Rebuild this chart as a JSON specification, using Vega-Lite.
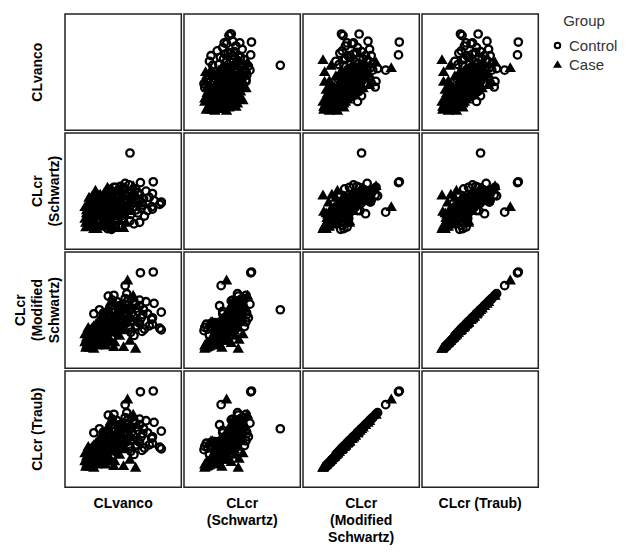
{
  "$schema": "https://vega.github.io/schema/vega-lite/v6.json",
  "padding": {"left": 14, "top": 13, "right": 5, "bottom": 5},
  "background": "white",
  "data": {"values": [
    {"CL_vanco": 28, "CLcr_Schwartz": 70, "CLcr_Schwartz_mod": 52, "CLcr_Traub": 62.4, "Group": "Case"},
    {"CL_vanco": 30, "CLcr_Schwartz": 65, "CLcr_Schwartz_mod": 48, "CLcr_Traub": 57.6, "Group": "Case"},
    {"CL_vanco": 33, "CLcr_Schwartz": 72, "CLcr_Schwartz_mod": 55, "CLcr_Traub": 66, "Group": "Case"},
    {"CL_vanco": 27, "CLcr_Schwartz": 75, "CLcr_Schwartz_mod": 50, "CLcr_Traub": 60, "Group": "Case"},
    {"CL_vanco": 35, "CLcr_Schwartz": 68, "CLcr_Schwartz_mod": 45, "CLcr_Traub": 54, "Group": "Case"},
    {"CL_vanco": 31, "CLcr_Schwartz": 80, "CLcr_Schwartz_mod": 54, "CLcr_Traub": 64.8, "Group": "Case"},
    {"CL_vanco": 37, "CLcr_Schwartz": 74, "CLcr_Schwartz_mod": 58, "CLcr_Traub": 69.6, "Group": "Case"},
    {"CL_vanco": 29, "CLcr_Schwartz": 82, "CLcr_Schwartz_mod": 46, "CLcr_Traub": 55.2, "Group": "Case"},
    {"CL_vanco": 40, "CLcr_Schwartz": 111, "CLcr_Schwartz_mod": 60, "CLcr_Traub": 72, "Group": "Case"},
    {"CL_vanco": 36, "CLcr_Schwartz": 96, "CLcr_Schwartz_mod": 49, "CLcr_Traub": 58.8, "Group": "Case"},
    {"CL_vanco": 32, "CLcr_Schwartz": 84, "CLcr_Schwartz_mod": 43, "CLcr_Traub": 51.6, "Group": "Case"},
    {"CL_vanco": 43, "CLcr_Schwartz": 78, "CLcr_Schwartz_mod": 62, "CLcr_Traub": 74.4, "Group": "Case"},
    {"CL_vanco": 45, "CLcr_Schwartz": 88, "CLcr_Schwartz_mod": 65, "CLcr_Traub": 78, "Group": "Case"},
    {"CL_vanco": 39, "CLcr_Schwartz": 90, "CLcr_Schwartz_mod": 56, "CLcr_Traub": 67.2, "Group": "Case"},
    {"CL_vanco": 47, "CLcr_Schwartz": 70, "CLcr_Schwartz_mod": 52, "CLcr_Traub": 62.4, "Group": "Case"},
    {"CL_vanco": 50, "CLcr_Schwartz": 95, "CLcr_Schwartz_mod": 70, "CLcr_Traub": 84, "Group": "Case"},
    {"CL_vanco": 53, "CLcr_Schwartz": 80, "CLcr_Schwartz_mod": 60, "CLcr_Traub": 72, "Group": "Case"},
    {"CL_vanco": 55, "CLcr_Schwartz": 102, "CLcr_Schwartz_mod": 75, "CLcr_Traub": 90, "Group": "Case"},
    {"CL_vanco": 57, "CLcr_Schwartz": 75, "CLcr_Schwartz_mod": 68, "CLcr_Traub": 81.6, "Group": "Case"},
    {"CL_vanco": 60, "CLcr_Schwartz": 85, "CLcr_Schwartz_mod": 78, "CLcr_Traub": 93.6, "Group": "Case"},
    {"CL_vanco": 63, "CLcr_Schwartz": 63, "CLcr_Schwartz_mod": 44, "CLcr_Traub": 52.8, "Group": "Case"},
    {"CL_vanco": 75, "CLcr_Schwartz": 63, "CLcr_Schwartz_mod": 44, "CLcr_Traub": 52.8, "Group": "Case"},
    {"CL_vanco": 70, "CLcr_Schwartz": 72, "CLcr_Schwartz_mod": 58, "CLcr_Traub": 69.6, "Group": "Case"},
    {"CL_vanco": 65, "CLcr_Schwartz": 90, "CLcr_Schwartz_mod": 80, "CLcr_Traub": 96, "Group": "Case"},
    {"CL_vanco": 67, "CLcr_Schwartz": 98, "CLcr_Schwartz_mod": 85, "CLcr_Traub": 102, "Group": "Case"},
    {"CL_vanco": 73, "CLcr_Schwartz": 105, "CLcr_Schwartz_mod": 90, "CLcr_Traub": 108, "Group": "Case"},
    {"CL_vanco": 51, "CLcr_Schwartz": 108, "CLcr_Schwartz_mod": 82, "CLcr_Traub": 98.4, "Group": "Case"},
    {"CL_vanco": 43, "CLcr_Schwartz": 100, "CLcr_Schwartz_mod": 70, "CLcr_Traub": 84, "Group": "Case"},
    {"CL_vanco": 58, "CLcr_Schwartz": 112, "CLcr_Schwartz_mod": 88, "CLcr_Traub": 105.6, "Group": "Case"},
    {"CL_vanco": 80, "CLcr_Schwartz": 90, "CLcr_Schwartz_mod": 127, "CLcr_Traub": 152.4, "Group": "Case"},
    {"CL_vanco": 87, "CLcr_Schwartz": 117, "CLcr_Schwartz_mod": 108, "CLcr_Traub": 129.6, "Group": "Case"},
    {"CL_vanco": 90, "CLcr_Schwartz": 105, "CLcr_Schwartz_mod": 42, "CLcr_Traub": 50.4, "Group": "Case"},
    {"CL_vanco": 77, "CLcr_Schwartz": 80, "CLcr_Schwartz_mod": 65, "CLcr_Traub": 78, "Group": "Case"},
    {"CL_vanco": 82, "CLcr_Schwartz": 95, "CLcr_Schwartz_mod": 80, "CLcr_Traub": 96, "Group": "Case"},
    {"CL_vanco": 85, "CLcr_Schwartz": 100, "CLcr_Schwartz_mod": 95, "CLcr_Traub": 114, "Group": "Case"},
    {"CL_vanco": 49, "CLcr_Schwartz": 65, "CLcr_Schwartz_mod": 48, "CLcr_Traub": 57.6, "Group": "Case"},
    {"CL_vanco": 41, "CLcr_Schwartz": 86, "CLcr_Schwartz_mod": 73, "CLcr_Traub": 87.6, "Group": "Case"},
    {"CL_vanco": 34, "CLcr_Schwartz": 100, "CLcr_Schwartz_mod": 65, "CLcr_Traub": 78, "Group": "Case"},
    {"CL_vanco": 61, "CLcr_Schwartz": 93, "CLcr_Schwartz_mod": 62, "CLcr_Traub": 74.4, "Group": "Case"},
    {"CL_vanco": 69, "CLcr_Schwartz": 82, "CLcr_Schwartz_mod": 70, "CLcr_Traub": 84, "Group": "Case"},
    {"CL_vanco": 38, "CLcr_Schwartz": 62, "CLcr_Schwartz_mod": 42, "CLcr_Traub": 50.4, "Group": "Case"},
    {"CL_vanco": 46, "CLcr_Schwartz": 106, "CLcr_Schwartz_mod": 53, "CLcr_Traub": 63.6, "Group": "Case"},
    {"CL_vanco": 72, "CLcr_Schwartz": 110, "CLcr_Schwartz_mod": 98, "CLcr_Traub": 117.6, "Group": "Case"},
    {"CL_vanco": 55, "CLcr_Schwartz": 115, "CLcr_Schwartz_mod": 92, "CLcr_Traub": 110.4, "Group": "Case"},
    {"CL_vanco": 83, "CLcr_Schwartz": 85, "CLcr_Schwartz_mod": 52, "CLcr_Traub": 62.4, "Group": "Case"},
    {"CL_vanco": 27, "CLcr_Schwartz": 90, "CLcr_Schwartz_mod": 60, "CLcr_Traub": 72, "Group": "Case"},
    {"CL_vanco": 52, "CLcr_Schwartz": 72, "CLcr_Schwartz_mod": 75, "CLcr_Traub": 90, "Group": "Case"},
    {"CL_vanco": 64, "CLcr_Schwartz": 78, "CLcr_Schwartz_mod": 50, "CLcr_Traub": 60, "Group": "Case"},
    {"CL_vanco": 59, "CLcr_Schwartz": 98, "CLcr_Schwartz_mod": 100, "CLcr_Traub": 120, "Group": "Case"},
    {"CL_vanco": 78, "CLcr_Schwartz": 70, "CLcr_Schwartz_mod": 75, "CLcr_Traub": 90, "Group": "Case"},
    {"CL_vanco": 31, "CLcr_Schwartz": 66, "CLcr_Schwartz_mod": 44, "CLcr_Traub": 52.8, "Group": "Case"},
    {"CL_vanco": 34, "CLcr_Schwartz": 78, "CLcr_Schwartz_mod": 51, "CLcr_Traub": 61.2, "Group": "Case"},
    {"CL_vanco": 41, "CLcr_Schwartz": 68, "CLcr_Schwartz_mod": 49, "CLcr_Traub": 58.8, "Group": "Case"},
    {"CL_vanco": 44, "CLcr_Schwartz": 82, "CLcr_Schwartz_mod": 57, "CLcr_Traub": 68.4, "Group": "Case"},
    {"CL_vanco": 48, "CLcr_Schwartz": 92, "CLcr_Schwartz_mod": 66, "CLcr_Traub": 79.2, "Group": "Case"},
    {"CL_vanco": 54, "CLcr_Schwartz": 87, "CLcr_Schwartz_mod": 72, "CLcr_Traub": 86.4, "Group": "Case"},
    {"CL_vanco": 36, "CLcr_Schwartz": 104, "CLcr_Schwartz_mod": 68, "CLcr_Traub": 81.6, "Group": "Case"},
    {"CL_vanco": 62, "CLcr_Schwartz": 104, "CLcr_Schwartz_mod": 82, "CLcr_Traub": 98.4, "Group": "Case"},
    {"CL_vanco": 30, "CLcr_Schwartz": 76, "CLcr_Schwartz_mod": 47, "CLcr_Traub": 56.4, "Group": "Case"},
    {"CL_vanco": 33, "CLcr_Schwartz": 88, "CLcr_Schwartz_mod": 52, "CLcr_Traub": 62.4, "Group": "Case"},
    {"CL_vanco": 37, "CLcr_Schwartz": 80, "CLcr_Schwartz_mod": 48, "CLcr_Traub": 57.6, "Group": "Case"},
    {"CL_vanco": 39, "CLcr_Schwartz": 72, "CLcr_Schwartz_mod": 54, "CLcr_Traub": 64.8, "Group": "Case"},
    {"CL_vanco": 42, "CLcr_Schwartz": 90, "CLcr_Schwartz_mod": 60, "CLcr_Traub": 72, "Group": "Case"},
    {"CL_vanco": 45, "CLcr_Schwartz": 78, "CLcr_Schwartz_mod": 50, "CLcr_Traub": 60, "Group": "Case"},
    {"CL_vanco": 48, "CLcr_Schwartz": 85, "CLcr_Schwartz_mod": 58, "CLcr_Traub": 69.6, "Group": "Case"},
    {"CL_vanco": 51, "CLcr_Schwartz": 75, "CLcr_Schwartz_mod": 54, "CLcr_Traub": 64.8, "Group": "Case"},
    {"CL_vanco": 54, "CLcr_Schwartz": 95, "CLcr_Schwartz_mod": 64, "CLcr_Traub": 76.8, "Group": "Case"},
    {"CL_vanco": 56, "CLcr_Schwartz": 82, "CLcr_Schwartz_mod": 56, "CLcr_Traub": 67.2, "Group": "Case"},
    {"CL_vanco": 59, "CLcr_Schwartz": 88, "CLcr_Schwartz_mod": 70, "CLcr_Traub": 84, "Group": "Case"},
    {"CL_vanco": 62, "CLcr_Schwartz": 98, "CLcr_Schwartz_mod": 68, "CLcr_Traub": 81.6, "Group": "Case"},
    {"CL_vanco": 35, "CLcr_Schwartz": 94, "CLcr_Schwartz_mod": 62, "CLcr_Traub": 74.4, "Group": "Case"},
    {"CL_vanco": 32, "CLcr_Schwartz": 102, "CLcr_Schwartz_mod": 58, "CLcr_Traub": 69.6, "Group": "Case"},
    {"CL_vanco": 29, "CLcr_Schwartz": 86, "CLcr_Schwartz_mod": 56, "CLcr_Traub": 67.2, "Group": "Case"},
    {"CL_vanco": 44, "CLcr_Schwartz": 105, "CLcr_Schwartz_mod": 75, "CLcr_Traub": 90, "Group": "Case"},
    {"CL_vanco": 49, "CLcr_Schwartz": 100, "CLcr_Schwartz_mod": 72, "CLcr_Traub": 86.4, "Group": "Case"},
    {"CL_vanco": 53, "CLcr_Schwartz": 68, "CLcr_Schwartz_mod": 46, "CLcr_Traub": 55.2, "Group": "Case"},
    {"CL_vanco": 58, "CLcr_Schwartz": 70, "CLcr_Schwartz_mod": 54, "CLcr_Traub": 64.8, "Group": "Case"},
    {"CL_vanco": 66, "CLcr_Schwartz": 86, "CLcr_Schwartz_mod": 64, "CLcr_Traub": 76.8, "Group": "Case"},
    {"CL_vanco": 69, "CLcr_Schwartz": 94, "CLcr_Schwartz_mod": 74, "CLcr_Traub": 88.8, "Group": "Case"},
    {"CL_vanco": 40, "CLcr_Schwartz": 82, "CLcr_Schwartz_mod": 66, "CLcr_Traub": 79.2, "Group": "Case"},
    {"CL_vanco": 46, "CLcr_Schwartz": 98, "CLcr_Schwartz_mod": 78, "CLcr_Traub": 93.6, "Group": "Case"},
    {"CL_vanco": 52, "CLcr_Schwartz": 104, "CLcr_Schwartz_mod": 85, "CLcr_Traub": 102, "Group": "Case"},
    {"CL_vanco": 60, "CLcr_Schwartz": 108, "CLcr_Schwartz_mod": 80, "CLcr_Traub": 96, "Group": "Case"},
    {"CL_vanco": 28, "CLcr_Schwartz": 64, "CLcr_Schwartz_mod": 43, "CLcr_Traub": 51.6, "Group": "Case"},
    {"CL_vanco": 34, "CLcr_Schwartz": 69, "CLcr_Schwartz_mod": 50, "CLcr_Traub": 60, "Group": "Case"},
    {"CL_vanco": 38, "CLcr_Schwartz": 96, "CLcr_Schwartz_mod": 70, "CLcr_Traub": 84, "Group": "Case"},
    {"CL_vanco": 71, "CLcr_Schwartz": 100, "CLcr_Schwartz_mod": 86, "CLcr_Traub": 103.2, "Group": "Case"},
    {"CL_vanco": 42, "CLcr_Schwartz": 62, "CLcr_Schwartz_mod": 46, "CLcr_Traub": 55.2, "Group": "Case"},
    {"CL_vanco": 56, "CLcr_Schwartz": 65, "CLcr_Schwartz_mod": 50, "CLcr_Traub": 60, "Group": "Case"},
    {"CL_vanco": 47, "CLcr_Schwartz": 92, "CLcr_Schwartz_mod": 82, "CLcr_Traub": 98.4, "Group": "Case"},
    {"CL_vanco": 63, "CLcr_Schwartz": 80, "CLcr_Schwartz_mod": 73, "CLcr_Traub": 87.6, "Group": "Case"},
    {"CL_vanco": 73, "CLcr_Schwartz": 90, "CLcr_Schwartz_mod": 68, "CLcr_Traub": 81.6, "Group": "Case"},
    {"CL_vanco": 31, "CLcr_Schwartz": 93, "CLcr_Schwartz_mod": 68, "CLcr_Traub": 81.6, "Group": "Case"},
    {"CL_vanco": 83, "CLcr_Schwartz": 159, "CLcr_Schwartz_mod": 90, "CLcr_Traub": 108, "Group": "Control"},
    {"CL_vanco": 112, "CLcr_Schwartz": 122, "CLcr_Schwartz_mod": 137, "CLcr_Traub": 164.4, "Group": "Control"},
    {"CL_vanco": 96, "CLcr_Schwartz": 121, "CLcr_Schwartz_mod": 136, "CLcr_Traub": 163.2, "Group": "Control"},
    {"CL_vanco": 122, "CLcr_Schwartz": 96, "CLcr_Schwartz_mod": 87, "CLcr_Traub": 104.4, "Group": "Control"},
    {"CL_vanco": 122, "CLcr_Schwartz": 95, "CLcr_Schwartz_mod": 65, "CLcr_Traub": 78, "Group": "Control"},
    {"CL_vanco": 120, "CLcr_Schwartz": 93, "CLcr_Schwartz_mod": 67, "CLcr_Traub": 80.4, "Group": "Control"},
    {"CL_vanco": 77, "CLcr_Schwartz": 83, "CLcr_Schwartz_mod": 120, "CLcr_Traub": 144, "Group": "Control"},
    {"CL_vanco": 38, "CLcr_Schwartz": 100, "CLcr_Schwartz_mod": 85, "CLcr_Traub": 102, "Group": "Control"},
    {"CL_vanco": 55, "CLcr_Schwartz": 62, "CLcr_Schwartz_mod": 68, "CLcr_Traub": 81.6, "Group": "Control"},
    {"CL_vanco": 60, "CLcr_Schwartz": 61, "CLcr_Schwartz_mod": 64, "CLcr_Traub": 76.8, "Group": "Control"},
    {"CL_vanco": 63, "CLcr_Schwartz": 115, "CLcr_Schwartz_mod": 108, "CLcr_Traub": 129.6, "Group": "Control"},
    {"CL_vanco": 85, "CLcr_Schwartz": 110, "CLcr_Schwartz_mod": 104, "CLcr_Traub": 124.8, "Group": "Control"},
    {"CL_vanco": 110, "CLcr_Schwartz": 90, "CLcr_Schwartz_mod": 78, "CLcr_Traub": 93.6, "Group": "Control"},
    {"CL_vanco": 111, "CLcr_Schwartz": 87, "CLcr_Schwartz_mod": 72, "CLcr_Traub": 86.4, "Group": "Control"},
    {"CL_vanco": 98, "CLcr_Schwartz": 95, "CLcr_Schwartz_mod": 63, "CLcr_Traub": 75.6, "Group": "Control"},
    {"CL_vanco": 111, "CLcr_Schwartz": 107, "CLcr_Schwartz_mod": 80, "CLcr_Traub": 96, "Group": "Control"},
    {"CL_vanco": 70, "CLcr_Schwartz": 81, "CLcr_Schwartz_mod": 95, "CLcr_Traub": 114, "Group": "Control"},
    {"CL_vanco": 80, "CLcr_Schwartz": 96, "CLcr_Schwartz_mod": 101, "CLcr_Traub": 121.2, "Group": "Control"},
    {"CL_vanco": 65, "CLcr_Schwartz": 115, "CLcr_Schwartz_mod": 87, "CLcr_Traub": 104.4, "Group": "Control"},
    {"CL_vanco": 75, "CLcr_Schwartz": 115, "CLcr_Schwartz_mod": 75, "CLcr_Traub": 90, "Group": "Control"},
    {"CL_vanco": 90, "CLcr_Schwartz": 113, "CLcr_Schwartz_mod": 69, "CLcr_Traub": 82.8, "Group": "Control"},
    {"CL_vanco": 95, "CLcr_Schwartz": 105, "CLcr_Schwartz_mod": 95, "CLcr_Traub": 114, "Group": "Control"},
    {"CL_vanco": 100, "CLcr_Schwartz": 100, "CLcr_Schwartz_mod": 90, "CLcr_Traub": 108, "Group": "Control"},
    {"CL_vanco": 105, "CLcr_Schwartz": 85, "CLcr_Schwartz_mod": 85, "CLcr_Traub": 102, "Group": "Control"},
    {"CL_vanco": 87, "CLcr_Schwartz": 90, "CLcr_Schwartz_mod": 82, "CLcr_Traub": 98.4, "Group": "Control"},
    {"CL_vanco": 70, "CLcr_Schwartz": 102, "CLcr_Schwartz_mod": 78, "CLcr_Traub": 93.6, "Group": "Control"},
    {"CL_vanco": 80, "CLcr_Schwartz": 108, "CLcr_Schwartz_mod": 85, "CLcr_Traub": 102, "Group": "Control"},
    {"CL_vanco": 93, "CLcr_Schwartz": 82, "CLcr_Schwartz_mod": 75, "CLcr_Traub": 90, "Group": "Control"},
    {"CL_vanco": 103, "CLcr_Schwartz": 110, "CLcr_Schwartz_mod": 100, "CLcr_Traub": 120, "Group": "Control"},
    {"CL_vanco": 73, "CLcr_Schwartz": 88, "CLcr_Schwartz_mod": 70, "CLcr_Traub": 84, "Group": "Control"},
    {"CL_vanco": 55, "CLcr_Schwartz": 92, "CLcr_Schwartz_mod": 76, "CLcr_Traub": 91.2, "Group": "Control"},
    {"CL_vanco": 67, "CLcr_Schwartz": 75, "CLcr_Schwartz_mod": 60, "CLcr_Traub": 72, "Group": "Control"},
    {"CL_vanco": 83, "CLcr_Schwartz": 72, "CLcr_Schwartz_mod": 68, "CLcr_Traub": 81.6, "Group": "Control"},
    {"CL_vanco": 91, "CLcr_Schwartz": 98, "CLcr_Schwartz_mod": 92, "CLcr_Traub": 110.4, "Group": "Control"},
    {"CL_vanco": 97, "CLcr_Schwartz": 88, "CLcr_Schwartz_mod": 80, "CLcr_Traub": 96, "Group": "Control"},
    {"CL_vanco": 77, "CLcr_Schwartz": 120, "CLcr_Schwartz_mod": 97, "CLcr_Traub": 116.4, "Group": "Control"},
    {"CL_vanco": 107, "CLcr_Schwartz": 102, "CLcr_Schwartz_mod": 70, "CLcr_Traub": 84, "Group": "Control"},
    {"CL_vanco": 61, "CLcr_Schwartz": 107, "CLcr_Schwartz_mod": 102, "CLcr_Traub": 122.4, "Group": "Control"},
    {"CL_vanco": 88, "CLcr_Schwartz": 68, "CLcr_Schwartz_mod": 58, "CLcr_Traub": 69.6, "Group": "Control"},
    {"CL_vanco": 101, "CLcr_Schwartz": 78, "CLcr_Schwartz_mod": 66, "CLcr_Traub": 79.2, "Group": "Control"},
    {"CL_vanco": 69, "CLcr_Schwartz": 112, "CLcr_Schwartz_mod": 93, "CLcr_Traub": 111.6, "Group": "Control"},
    {"CL_vanco": 56, "CLcr_Schwartz": 105, "CLcr_Schwartz_mod": 107, "CLcr_Traub": 128.4, "Group": "Control"},
    {"CL_vanco": 45, "CLcr_Schwartz": 95, "CLcr_Schwartz_mod": 90, "CLcr_Traub": 108, "Group": "Control"},
    {"CL_vanco": 113, "CLcr_Schwartz": 98, "CLcr_Schwartz_mod": 98, "CLcr_Traub": 117.6, "Group": "Control"},
    {"CL_vanco": 95, "CLcr_Schwartz": 70, "CLcr_Schwartz_mod": 73, "CLcr_Traub": 87.6, "Group": "Control"},
    {"CL_vanco": 79, "CLcr_Schwartz": 104, "CLcr_Schwartz_mod": 110, "CLcr_Traub": 132, "Group": "Control"},
    {"CL_vanco": 71, "CLcr_Schwartz": 66, "CLcr_Schwartz_mod": 66, "CLcr_Traub": 79.2, "Group": "Control"},
    {"CL_vanco": 65, "CLcr_Schwartz": 64, "CLcr_Schwartz_mod": 72, "CLcr_Traub": 86.4, "Group": "Control"},
    {"CL_vanco": 65, "CLcr_Schwartz": 90, "CLcr_Schwartz_mod": 80, "CLcr_Traub": 96, "Group": "Control"},
    {"CL_vanco": 70, "CLcr_Schwartz": 95, "CLcr_Schwartz_mod": 85, "CLcr_Traub": 102, "Group": "Control"},
    {"CL_vanco": 75, "CLcr_Schwartz": 100, "CLcr_Schwartz_mod": 90, "CLcr_Traub": 108, "Group": "Control"},
    {"CL_vanco": 60, "CLcr_Schwartz": 85, "CLcr_Schwartz_mod": 75, "CLcr_Traub": 90, "Group": "Control"},
    {"CL_vanco": 80, "CLcr_Schwartz": 90, "CLcr_Schwartz_mod": 78, "CLcr_Traub": 93.6, "Group": "Control"},
    {"CL_vanco": 85, "CLcr_Schwartz": 102, "CLcr_Schwartz_mod": 86, "CLcr_Traub": 103.2, "Group": "Control"},
    {"CL_vanco": 73, "CLcr_Schwartz": 108, "CLcr_Schwartz_mod": 95, "CLcr_Traub": 114, "Group": "Control"},
    {"CL_vanco": 63, "CLcr_Schwartz": 98, "CLcr_Schwartz_mod": 90, "CLcr_Traub": 108, "Group": "Control"},
    {"CL_vanco": 67, "CLcr_Schwartz": 105, "CLcr_Schwartz_mod": 100, "CLcr_Traub": 120, "Group": "Control"},
    {"CL_vanco": 83, "CLcr_Schwartz": 110, "CLcr_Schwartz_mod": 92, "CLcr_Traub": 110.4, "Group": "Control"},
    {"CL_vanco": 89, "CLcr_Schwartz": 104, "CLcr_Schwartz_mod": 98, "CLcr_Traub": 117.6, "Group": "Control"},
    {"CL_vanco": 78, "CLcr_Schwartz": 86, "CLcr_Schwartz_mod": 73, "CLcr_Traub": 87.6, "Group": "Control"},
    {"CL_vanco": 72, "CLcr_Schwartz": 78, "CLcr_Schwartz_mod": 68, "CLcr_Traub": 81.6, "Group": "Control"},
    {"CL_vanco": 58, "CLcr_Schwartz": 100, "CLcr_Schwartz_mod": 82, "CLcr_Traub": 98.4, "Group": "Control"},
    {"CL_vanco": 53, "CLcr_Schwartz": 88, "CLcr_Schwartz_mod": 70, "CLcr_Traub": 84, "Group": "Control"},
    {"CL_vanco": 87, "CLcr_Schwartz": 96, "CLcr_Schwartz_mod": 76, "CLcr_Traub": 91.2, "Group": "Control"},
    {"CL_vanco": 93, "CLcr_Schwartz": 108, "CLcr_Schwartz_mod": 88, "CLcr_Traub": 105.6, "Group": "Control"},
    {"CL_vanco": 99, "CLcr_Schwartz": 92, "CLcr_Schwartz_mod": 84, "CLcr_Traub": 100.8, "Group": "Control"},
    {"CL_vanco": 77, "CLcr_Schwartz": 112, "CLcr_Schwartz_mod": 104, "CLcr_Traub": 124.8, "Group": "Control"},
    {"CL_vanco": 82, "CLcr_Schwartz": 118, "CLcr_Schwartz_mod": 80, "CLcr_Traub": 96, "Group": "Control"},
    {"CL_vanco": 69, "CLcr_Schwartz": 85, "CLcr_Schwartz_mod": 88, "CLcr_Traub": 105.6, "Group": "Control"},
    {"CL_vanco": 61, "CLcr_Schwartz": 110, "CLcr_Schwartz_mod": 96, "CLcr_Traub": 115.2, "Group": "Control"},
    {"CL_vanco": 91, "CLcr_Schwartz": 86, "CLcr_Schwartz_mod": 70, "CLcr_Traub": 84, "Group": "Control"},
    {"CL_vanco": 75, "CLcr_Schwartz": 75, "CLcr_Schwartz_mod": 74, "CLcr_Traub": 88.8, "Group": "Control"},
    {"CL_vanco": 50, "CLcr_Schwartz": 102, "CLcr_Schwartz_mod": 86, "CLcr_Traub": 103.2, "Group": "Control"},
    {"CL_vanco": 95, "CLcr_Schwartz": 98, "CLcr_Schwartz_mod": 102, "CLcr_Traub": 122.4, "Group": "Control"},
    {"CL_vanco": 64, "CLcr_Schwartz": 92, "CLcr_Schwartz_mod": 66, "CLcr_Traub": 79.2, "Group": "Control"},
    {"CL_vanco": 84, "CLcr_Schwartz": 80, "CLcr_Schwartz_mod": 62, "CLcr_Traub": 74.4, "Group": "Control"},
    {"CL_vanco": 71, "CLcr_Schwartz": 116, "CLcr_Schwartz_mod": 84, "CLcr_Traub": 100.8, "Group": "Control"},
    {"CL_vanco": 57, "CLcr_Schwartz": 78, "CLcr_Schwartz_mod": 72, "CLcr_Traub": 86.4, "Group": "Control"}
  ]},
  "transform": [
    {"fold": ["CL_vanco", "CLcr_Schwartz", "CLcr_Schwartz_mod", "CLcr_Traub"], "as": ["colVar", "xValue"]},
    {"fold": ["CL_vanco", "CLcr_Schwartz", "CLcr_Schwartz_mod", "CLcr_Traub"], "as": ["rowVar", "yValue"]},
    {"filter": "datum.colVar != datum.rowVar"}
  ],
  "facet": {
    "row": {
      "field": "rowVar", "type": "nominal",
      "title": null,
      "header": {
        "labelExpr": "datum.value == 'CL_vanco' ? ['CLvanco', ''] : datum.value == 'CLcr_Schwartz' ? ['CLcr', '(Schwartz)'] : datum.value == 'CLcr_Schwartz_mod' ? ['CLcr', '(Modified', 'Schwartz)'] : ['CLcr (Traub)', '']",
        "labelOrient": "left",
        "labelAngle": -90,
        "labelAlign": "center",
        "labelBaseline": "middle",
        "labelPadding": -5,
        "labelFont": "Liberation Sans",
        "labelFontSize": 14,
        "labelFontWeight": "bold",
        "labelColor": "#000000",
        "labelLineHeight": 17
      }
    },
    "column": {
      "field": "colVar", "type": "nominal",
      "title": null,
      "header": {
        "labelExpr": "datum.value == 'CL_vanco' ? 'CLvanco' : datum.value == 'CLcr_Schwartz' ? ['CLcr', '(Schwartz)'] : datum.value == 'CLcr_Schwartz_mod' ? ['CLcr', '(Modified', 'Schwartz)'] : 'CLcr (Traub)'",
        "labelOrient": "bottom",
        "labelAngle": 0,
        "labelAlign": "center",
        "labelBaseline": "top",
        "labelPadding": 8,
        "labelFont": "Liberation Sans",
        "labelFontSize": 14,
        "labelFontWeight": "bold",
        "labelColor": "#000000",
        "labelLineHeight": 17
      }
    }
  },
  "spacing": 0,
  "spec": {
    "width": 116.3,
    "height": 116.3,
    "mark": {"type": "point", "size": 55, "strokeWidth": 2.3, "opacity": 1, "filled": true},
    "encoding": {
      "x": {"field": "xValue", "type": "quantitative", "axis": null, "scale": {"zero": false, "nice": false, "padding": 20}},
      "y": {"field": "yValue", "type": "quantitative", "axis": null, "scale": {"zero": false, "nice": false, "padding": 20}},
      "shape": {"field": "Group", "type": "nominal", "scale": {"domain": ["Control", "Case"], "range": ["circle", "triangle-up"]}, "legend": {"title": "Group"}},
      "fill": {"field": "Group", "type": "nominal", "scale": {"domain": ["Control", "Case"], "range": ["transparent", "#000000"]}, "legend": {"title": "Group"}},
      "stroke": {"field": "Group", "type": "nominal", "scale": {"domain": ["Control", "Case"], "range": ["#000000", "#000000"]}, "legend": {"title": "Group"}}
    }
  },
  "resolve": {"scale": {"x": "independent", "y": "independent"}},
  "config": {
    "view": {"stroke": "#222222", "strokeWidth": 1.5},
    "legend": {
      "orient": "right",
      "offset": 10,
      "titleFont": "Liberation Sans",
      "titleFontSize": 15,
      "titleFontWeight": "normal",
      "titleColor": "#333333",
      "titlePadding": 9,
      "titleAnchor": "middle",
      "labelFont": "Liberation Sans",
      "labelFontSize": 15,
      "labelColor": "#333333",
      "symbolSize": 30,
      "symbolStrokeWidth": 2,
      "rowPadding": 3,
      "labelOffset": 4
    }
  }
}
